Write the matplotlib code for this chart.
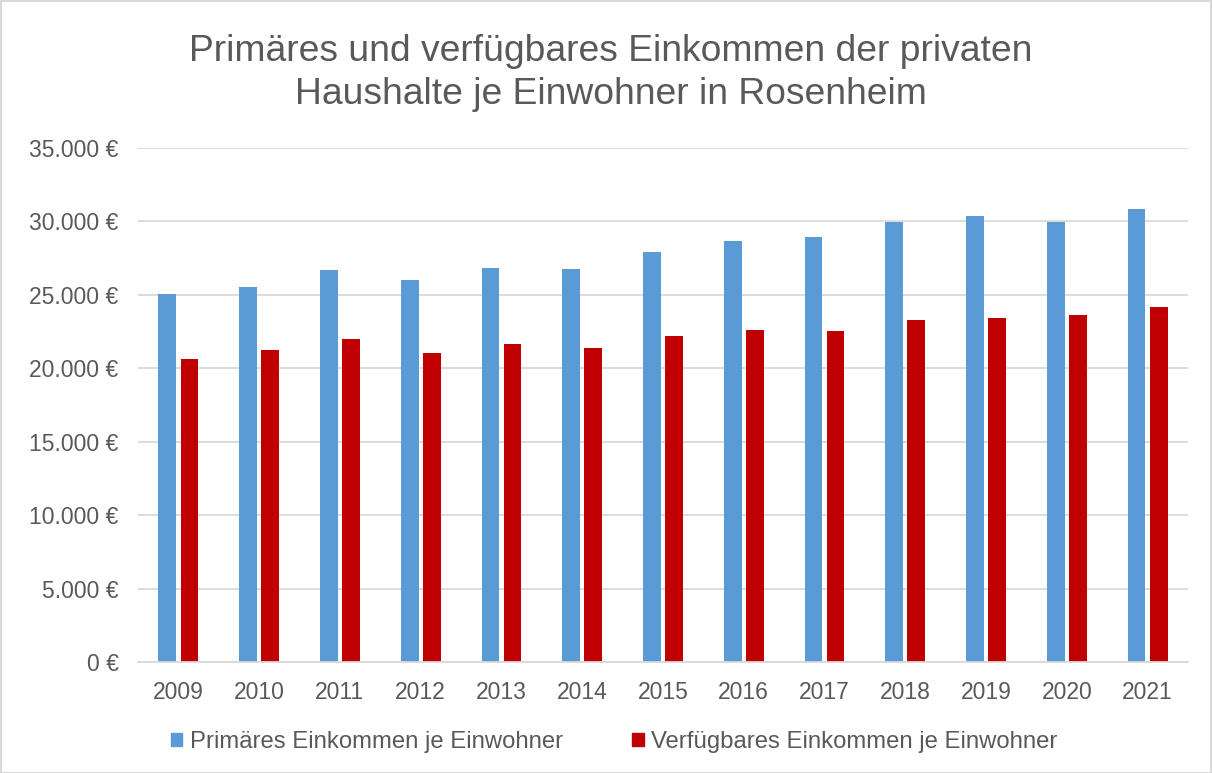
import matplotlib
matplotlib.use("Agg")
import matplotlib.pyplot as plt
import numpy as np
from matplotlib.patches import Rectangle
from matplotlib.ticker import FuncFormatter

years = ["2009", "2010", "2011", "2012", "2013", "2014", "2015",
         "2016", "2017", "2018", "2019", "2020", "2021"]
primaer = [25050, 25550, 26700, 25980, 26860, 26790, 27950,
           28680, 28970, 29950, 30390, 29930, 30860]
verfuegbar = [20660, 21270, 22000, 21070, 21620, 21410, 22200,
              22640, 22570, 23320, 23430, 23660, 24200]
yticks = [0, 5000, 10000, 15000, 20000, 25000, 30000, 35000]
title = "Primäres und verfügbares Einkommen der privaten\nHaushalte je Einwohner in Rosenheim"
labels = ["Primäres Einkommen je Einwohner", "Verfügbares Einkommen je Einwohner"]

blue = "#5B9BD5"
red = "#C00000"
grid = "#D9D9D9"
txt = "#595959"

plt.rcParams['font.family'] = ['Liberation Sans', 'DejaVu Sans']

W, H = 1212, 773
fig = plt.figure(figsize=(W / 100, H / 100), dpi=100)
ax = fig.add_axes([138 / W, 1 - 662 / H, (1188 - 138) / W, (662 - 148) / H])

x = np.arange(len(years))
bw = 0.22
off = 0.137
ax.bar(x - off, primaer, bw, color=blue, zorder=3)
ax.bar(x + off, verfuegbar, bw, color=red, zorder=3)

ax.set_xlim(-0.5, len(years) - 0.5)
ax.set_ylim(0, 35000)
ax.set_yticks(yticks)
ax.yaxis.set_major_formatter(FuncFormatter(lambda v, p: f"{int(v):,}".replace(",", ".") + " €"))
ax.set_xticks(x)
ax.set_xticklabels(years)
ax.tick_params(axis='both', length=0, labelsize=16.5, colors=txt)
ax.tick_params(axis='y', pad=14)
ax.tick_params(axis='x', pad=14)
ax.grid(axis='y', color=grid, linewidth=1.3, zorder=0)
for s in ['top', 'right', 'left']:
    ax.spines[s].set_visible(False)
ax.spines['bottom'].set_color(grid)
ax.spines['bottom'].set_linewidth(1.3)
ax.spines['bottom'].set_zorder(4)

fig.text(611 / W, 1 - 73 / H, title, ha='center', va='center', fontsize=26.8,
         color=txt, linespacing=1.3)

handles = [Rectangle((0, 0), 1, 1, color=blue), Rectangle((0, 0), 1, 1, color=red)]
fig.legend(handles, labels, loc='center', bbox_to_anchor=(614 / W, 1 - 742 / H),
           ncol=2, frameon=False, fontsize=17.2, labelcolor=txt,
           handlelength=0.5, handleheight=0.5, handletextpad=0.3, columnspacing=2.9)

fig.add_artist(Rectangle((0.5 / W, 0.5 / H), 1 - 1.5 / W, 1 - 1.5 / H,
                         transform=fig.transFigure, fill=False, edgecolor=grid, linewidth=1.5))

fig.savefig("out.png", dpi=100, facecolor='white')
